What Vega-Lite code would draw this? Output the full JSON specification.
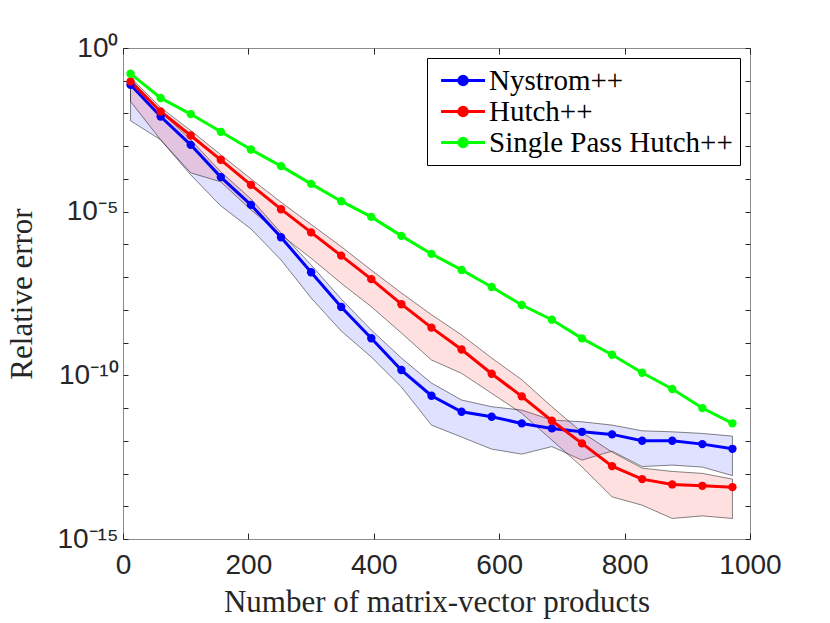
{
  "$schema": "https://vega.github.io/schema/vega-lite/v6.json",
  "width": 627,
  "height": 491,
  "autosize": "none",
  "padding": {"left": 123, "top": 48, "right": 80, "bottom": 84},
  "background": "white",
  "datasets": {
    "errors": [
      {"x": 12, "method": "Nystrom++", "err": 7.55e-2, "lo": 5.98e-3, "hi": 1.15e-1},
      {"x": 60, "method": "Nystrom++", "err": 8.09e-3, "lo": 1.57e-3, "hi": 1.13e-2},
      {"x": 108, "method": "Nystrom++", "err": 1.10e-3, "lo": 1.33e-4, "hi": 1.57e-3},
      {"x": 156, "method": "Nystrom++", "err": 1.14e-4, "lo": 1.50e-5, "hi": 1.65e-4},
      {"x": 204, "method": "Nystrom++", "err": 1.61e-5, "lo": 2.98e-6, "hi": 2.46e-5},
      {"x": 252, "method": "Nystrom++", "err": 1.66e-6, "lo": 3.36e-7, "hi": 2.25e-6},
      {"x": 300, "method": "Nystrom++", "err": 1.41e-7, "lo": 2.31e-8, "hi": 2.36e-7},
      {"x": 348, "method": "Nystrom++", "err": 1.23e-8, "lo": 2.26e-9, "hi": 2.15e-8},
      {"x": 396, "method": "Nystrom++", "err": 1.36e-9, "lo": 3.63e-10, "hi": 2.43e-9},
      {"x": 444, "method": "Nystrom++", "err": 1.45e-10, "lo": 4.39e-11, "hi": 3.38e-10},
      {"x": 492, "method": "Nystrom++", "err": 2.38e-11, "lo": 3.02e-12, "hi": 5.81e-11},
      {"x": 540, "method": "Nystrom++", "err": 7.71e-12, "lo": 1.30e-12, "hi": 1.76e-11},
      {"x": 588, "method": "Nystrom++", "err": 5.42e-12, "lo": 5.57e-13, "hi": 1.10e-11},
      {"x": 636, "method": "Nystrom++", "err": 3.40e-12, "lo": 3.92e-13, "hi": 8.69e-12},
      {"x": 684, "method": "Nystrom++", "err": 2.39e-12, "lo": 6.65e-13, "hi": 4.30e-12},
      {"x": 732, "method": "Nystrom++", "err": 1.88e-12, "lo": 2.57e-13, "hi": 3.81e-12},
      {"x": 780, "method": "Nystrom++", "err": 1.57e-12, "lo": 4.84e-13, "hi": 3.02e-12},
      {"x": 828, "method": "Nystrom++", "err": 1.00e-12, "lo": 1.63e-13, "hi": 2.02e-12},
      {"x": 876, "method": "Nystrom++", "err": 1.00e-12, "lo": 1.81e-13, "hi": 1.88e-12},
      {"x": 924, "method": "Nystrom++", "err": 7.92e-13, "lo": 1.57e-13, "hi": 1.68e-12},
      {"x": 972, "method": "Nystrom++", "err": 5.69e-13, "lo": 8.63e-14, "hi": 1.39e-12},
      {"x": 12, "method": "Hutch++", "err": 9.53e-2, "lo": 2.33e-2, "hi": 1.26e-1},
      {"x": 60, "method": "Hutch++", "err": 1.15e-2, "lo": 1.57e-3, "hi": 1.52e-2},
      {"x": 108, "method": "Hutch++", "err": 2.12e-3, "lo": 1.54e-4, "hi": 3.02e-3},
      {"x": 156, "method": "Hutch++", "err": 3.84e-4, "lo": 8.15e-5, "hi": 5.46e-4},
      {"x": 204, "method": "Hutch++", "err": 6.61e-5, "lo": 1.14e-5, "hi": 1.01e-4},
      {"x": 252, "method": "Hutch++", "err": 1.19e-5, "lo": 1.95e-6, "hi": 1.95e-5},
      {"x": 300, "method": "Hutch++", "err": 2.33e-6, "lo": 3.78e-7, "hi": 4.09e-6},
      {"x": 348, "method": "Hutch++", "err": 4.54e-7, "lo": 6.50e-8, "hi": 8.57e-7},
      {"x": 396, "method": "Hutch++", "err": 8.69e-8, "lo": 1.25e-8, "hi": 1.64e-7},
      {"x": 444, "method": "Hutch++", "err": 1.49e-8, "lo": 1.97e-9, "hi": 3.29e-8},
      {"x": 492, "method": "Hutch++", "err": 2.86e-9, "lo": 2.94e-10, "hi": 7.13e-9},
      {"x": 540, "method": "Hutch++", "err": 6.15e-10, "lo": 1.15e-10, "hi": 1.71e-9},
      {"x": 588, "method": "Hutch++", "err": 1.12e-10, "lo": 2.82e-11, "hi": 3.38e-10},
      {"x": 636, "method": "Hutch++", "err": 2.28e-11, "lo": 6.89e-12, "hi": 7.33e-11},
      {"x": 684, "method": "Hutch++", "err": 4.09e-12, "lo": 1.05e-12, "hi": 1.10e-11},
      {"x": 732, "method": "Hutch++", "err": 8.32e-13, "lo": 1.60e-13, "hi": 1.81e-12},
      {"x": 780, "method": "Hutch++", "err": 1.68e-13, "lo": 1.94e-14, "hi": 4.51e-13},
      {"x": 828, "method": "Hutch++", "err": 6.75e-14, "lo": 1.08e-14, "hi": 1.46e-13},
      {"x": 876, "method": "Hutch++", "err": 4.65e-14, "lo": 4.24e-15, "hi": 1.16e-13},
      {"x": 924, "method": "Hutch++", "err": 4.21e-14, "lo": 5.08e-15, "hi": 1.01e-13},
      {"x": 972, "method": "Hutch++", "err": 3.84e-14, "lo": 4.24e-15, "hi": 6.75e-14},
      {"x": 12, "method": "Single Pass Hutch++", "err": 1.64e-1},
      {"x": 60, "method": "Single Pass Hutch++", "err": 2.96e-2},
      {"x": 108, "method": "Single Pass Hutch++", "err": 9.59e-3},
      {"x": 156, "method": "Single Pass Hutch++", "err": 2.75e-3},
      {"x": 204, "method": "Single Pass Hutch++", "err": 7.92e-4},
      {"x": 252, "method": "Single Pass Hutch++", "err": 2.46e-4},
      {"x": 300, "method": "Single Pass Hutch++", "err": 7.08e-5},
      {"x": 348, "method": "Single Pass Hutch++", "err": 2.09e-5},
      {"x": 396, "method": "Single Pass Hutch++", "err": 6.93e-6},
      {"x": 444, "method": "Single Pass Hutch++", "err": 1.82e-6},
      {"x": 492, "method": "Single Pass Hutch++", "err": 5.12e-7},
      {"x": 540, "method": "Single Pass Hutch++", "err": 1.66e-7},
      {"x": 588, "method": "Single Pass Hutch++", "err": 5.01e-8},
      {"x": 636, "method": "Single Pass Hutch++", "err": 1.41e-8},
      {"x": 684, "method": "Single Pass Hutch++", "err": 5.01e-9},
      {"x": 732, "method": "Single Pass Hutch++", "err": 1.35e-9},
      {"x": 780, "method": "Single Pass Hutch++", "err": 4.27e-10},
      {"x": 828, "method": "Single Pass Hutch++", "err": 1.20e-10},
      {"x": 876, "method": "Single Pass Hutch++", "err": 3.81e-11},
      {"x": 924, "method": "Single Pass Hutch++", "err": 1.00e-11},
      {"x": 972, "method": "Single Pass Hutch++", "err": 3.40e-12}
    ]
  },
  "data": {"name": "errors"},
  "layer": [
    {
      "transform": [{"filter": "datum.method == 'Nystrom++'"}],
      "mark": {"type": "area", "fill": "#0000ff", "fillOpacity": 0.12, "stroke": "black", "strokeWidth": 0.6, "strokeOpacity": 0.8},
      "encoding": {
        "x": {
          "field": "x", "type": "quantitative",
          "scale": {"domain": [0, 1000], "nice": false},
          "axis": {"orient": "bottom", "values": [0, 200, 400, 600, 800, 1000], "format": "d", "title": "Number of matrix-vector products",
                   "offset": -6, "tickSize": 6, "labelPadding": 12, "titlePadding": 8, "labelFlush": false, "domain": false}
        },
        "y": {
          "field": "lo", "type": "quantitative",
          "scale": {"type": "log", "domain": [1e-15, 1], "nice": false},
          "axis": {"orient": "left",
                   "values": [1, 1e-1, 1e-2, 1e-3, 1e-4, 1e-5, 1e-6, 1e-7, 1e-8, 1e-9, 1e-10, 1e-11, 1e-12, 1e-13, 1e-14, 1e-15],
                   "labelExpr": "datum.value > 0.5 ? '10⁰' : (datum.value > 5e-6 && datum.value < 2e-5) ? '10⁻⁵' : (datum.value > 5e-11 && datum.value < 2e-10) ? '10⁻¹⁰' : datum.value < 2e-15 ? '10⁻¹⁵' : ''",
                   "labelOverlap": false, "title": "Relative error", "offset": -5, "tickSize": 5, "labelPadding": 5, "titlePadding": 18, "domain": false}
        },
        "y2": {"field": "hi"}
      }
    },
    {
      "transform": [{"filter": "datum.method == 'Hutch++'"}],
      "mark": {"type": "area", "fill": "#ff0000", "fillOpacity": 0.12, "stroke": "black", "strokeWidth": 0.6, "strokeOpacity": 0.8},
      "encoding": {
        "x": {
          "field": "x", "type": "quantitative",
          "axis": {"orient": "top", "values": [0, 200, 400, 600, 800, 1000], "labels": false, "title": null, "offset": -6, "tickSize": 6, "domain": false}
        },
        "y": {
          "field": "lo", "type": "quantitative",
          "axis": {"orient": "right",
                   "values": [1, 1e-1, 1e-2, 1e-3, 1e-4, 1e-5, 1e-6, 1e-7, 1e-8, 1e-9, 1e-10, 1e-11, 1e-12, 1e-13, 1e-14, 1e-15],
                   "labels": false, "title": null, "offset": -5, "tickSize": 5, "domain": false}
        },
        "y2": {"field": "hi"}
      }
    },
    {
      "mark": {"type": "line", "strokeWidth": 3, "point": {"filled": true, "size": 70}},
      "encoding": {
        "x": {"field": "x", "type": "quantitative", "axis": null},
        "y": {"field": "err", "type": "quantitative", "axis": null},
        "color": {
          "field": "method", "type": "nominal",
          "scale": {"domain": ["Nystrom++", "Hutch++", "Single Pass Hutch++"], "range": ["#0000ff", "#ff0000", "#00ff00"]},
          "legend": {
            "title": null, "orient": "top-right", "offset": 10,
            "fillColor": "white", "strokeColor": "black", "padding": 7,
            "labelFont": "Liberation Serif", "labelFontSize": 29, "labelColor": "black", "labelOffset": 24, "labelLimit": 600,
            "symbolType": "M-0.6,0L2.54,0M0.67,0A0.3,0.3,0,1,0,1.27,0A0.3,0.3,0,1,0,0.67,0Z",
            "symbolSize": 784, "symbolStrokeWidth": 3, "rowPadding": 0,
            "encode": {"symbols": {"update": {"fill": {"scale": "color", "field": "value"}, "stroke": {"scale": "color", "field": "value"}}}}
          }
        }
      }
    }
  ],
  "resolve": {"axis": {"x": "independent", "y": "independent"}},
  "config": {
    "view": {"stroke": "#8c8c8c", "strokeWidth": 1},
    "axis": {
      "grid": false,
      "labelFont": "Liberation Sans", "labelFontSize": 28, "labelColor": "#262626",
      "tickColor": "#262626", "tickWidth": 1,
      "titleFont": "Liberation Serif", "titleFontSize": 31, "titleFontWeight": "normal", "titleColor": "#262626"
    }
  }
}
